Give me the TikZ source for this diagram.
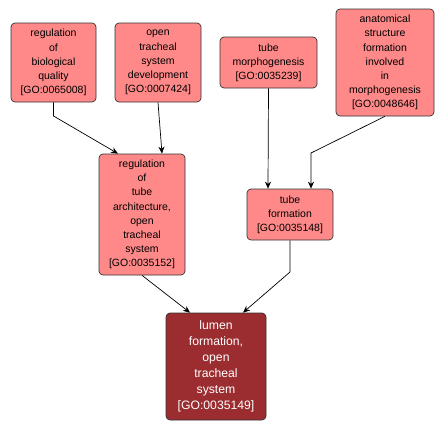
\documentclass[tikz,border=0pt]{standalone}
\usepackage{fontspec}
\setmainfont{Liberation Sans}
\usetikzlibrary{arrows.meta}
\definecolor{goPink}{RGB}{255,137,137}
\definecolor{goDark}{RGB}{155,44,48}
\begin{document}
\begin{tikzpicture}[x=1pt,y=-1pt,
  term/.style={draw=black!80, line width=0.7pt, rounded corners=4pt, fill=goPink, align=center, inner sep=0pt,
    font=\fontsize{10.5}{14.2}\selectfont},
  focus/.style={term, fill=goDark, text=white, font=\fontsize{12.2}{16}\selectfont},
  link/.style={draw=black, line width=0.7pt, -{Stealth[length=7pt,width=6pt]}}]
\useasboundingbox (0,0) rectangle (445,431);
\node[term, minimum width=85pt, minimum height=79pt] (A) at (53.5,62.5) {regulation\\of\\biological\\quality\\{[GO:0065008]}};
\node[term, minimum width=86pt, minimum height=79pt] (B) at (158,62.5) {open\\tracheal\\system\\development\\{[GO:0007424]}};
\node[term, minimum width=97pt, minimum height=51pt] (C) at (268.5,62.5) {tube\\morphogenesis\\{[GO:0035239]}};
\node[term, minimum width=98pt, minimum height=107pt] (D) at (385,62.5) {anatomical\\structure\\formation\\involved\\in\\morphogenesis\\{[GO:0048646]}};
\node[term, minimum width=86pt, minimum height=121pt] (E) at (142,214.5) {regulation\\of\\tube\\architecture,\\open\\tracheal\\system\\{[GO:0035152]}};
\node[term, minimum width=86pt, minimum height=51pt] (F) at (290,214.5) {tube\\formation\\{[GO:0035148]}};
\node[focus, minimum width=100pt, minimum height=107pt] (G) at (216,366.5) {lumen\\formation,\\open\\tracheal\\system\\{[GO:0035149]}};
\coordinate (a1) at (53.5,116);
\coordinate (d1) at (311,153);
\coordinate (f1) at (290,272);
\draw[link] (A.south) -- (a1) -- ([xshift=-24pt]E.north);
\draw[link] (B.south) -- ([xshift=20pt]E.north);
\draw[link] (C.south) -- ([xshift=-22pt]F.north);
\draw[link] (D.south) -- (d1) -- ([xshift=21pt]F.north);
\draw[link] (E.south) -- ([xshift=-26pt]G.north);
\draw[link] (F.south) -- (f1) -- ([xshift=27pt]G.north);
\end{tikzpicture}
\end{document}
